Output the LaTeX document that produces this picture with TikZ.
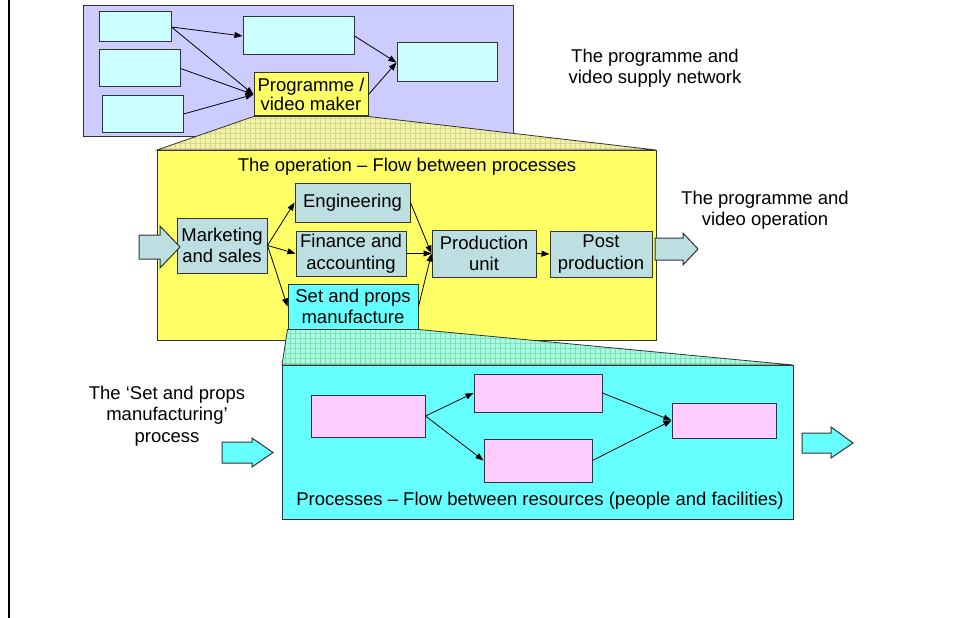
\documentclass[tikz,border=0pt]{standalone}
\usepackage{fontspec}
\setmainfont{Liberation Sans}
\usetikzlibrary{arrows.meta,patterns.meta}
\definecolor{bord}{HTML}{333333}
\definecolor{netfill}{HTML}{CCCCFF}
\definecolor{palecyan}{HTML}{CCFFFF}
\definecolor{opyellow}{HTML}{FFFF66}
\definecolor{teal}{HTML}{BDDFE1}
\definecolor{brightcyan}{HTML}{66FFFF}
\definecolor{pink}{HTML}{FFCCFF}
\definecolor{zoomyellow}{HTML}{F2F2A8}
\definecolor{zoomyellowline}{HTML}{D6D68A}
\definecolor{zoommint}{HTML}{A8FFE0}
\definecolor{zoommintline}{HTML}{7EDEBC}
\begin{document}
\begin{tikzpicture}[x=1pt,y=-1pt,
  every node/.style={font=\fontsize{18.5}{21.5}\selectfont, inner sep=0pt, align=center},
  region/.style={draw=bord, line width=1pt},
  stagebox/.style={draw=bord, line width=1pt},
  flow/.style={draw=black, line width=0.8pt, -{Triangle[length=8pt,width=6pt]}},
  blockarrow/.style={draw=bord, line width=1pt},
  zoomband/.style={draw=bord, line width=0.8pt}]
\useasboundingbox (0,0) rectangle (954,618);
\fill[white] (0,0) rectangle (954,618);

% left margin rule
\draw[line width=2.5pt] (9,0) -- (9,618);

% ---------- supply network ----------
\node[region, fill=netfill, minimum width=430pt, minimum height=130pt] (net) at (298,71) {};
\node[stagebox, fill=palecyan, minimum width=72pt, minimum height=30pt] (a1) at (135,27) {};
\node[stagebox, fill=palecyan, minimum width=81pt, minimum height=37pt] (a2) at (139.5,68.5) {};
\node[stagebox, fill=palecyan, minimum width=81pt, minimum height=36pt] (a3) at (142.5,114) {};
\node[stagebox, fill=palecyan, minimum width=111pt, minimum height=38pt] (b) at (298.5,36) {};
\node[stagebox, fill=palecyan, minimum width=100pt, minimum height=39pt] (c) at (447,62.5) {};
\node[stagebox, fill=opyellow, minimum width=114pt, minimum height=43pt,
      font=\fontsize{18.5}{17}\selectfont] (maker) at (311,94.5) {Programme /\\video maker};
\draw[flow] (a1.east) -- (b.west);
\draw[flow] (a1.east) -- (maker.west);
\draw[flow] (a2.east) -- (maker.west);
\draw[flow] (a3.east) -- (maker.west);
\draw[flow] (b.east) -- (c.west);
\draw[flow] (maker.east) -- (c.west);

\node (netcap) at (655,68) {The programme and\\video supply network};

% zoom band from the maker into the operation
\path[zoomband, preaction={fill=zoomyellow},
      pattern={Hatch[angle=0,distance=5pt,line width=0.5pt]}, pattern color=zoomyellowline]
  (maker.south west) -- (maker.south east) -- (656,150) -- (157,150) -- cycle;

% ---------- operation ----------
\node[region, fill=opyellow, minimum width=499pt, minimum height=190pt] (op) at (406.5,245) {};
\node (optitle) at (407,167) {The operation -- Flow between processes};
\node[stagebox, fill=teal, minimum width=90pt, minimum height=55pt] (mk) at (222,245.5) {Marketing\\and sales};
\node[stagebox, fill=teal, minimum width=115pt, minimum height=39pt] (eng) at (352.5,202.5) {Engineering};
\node[stagebox, fill=teal, minimum width=110pt, minimum height=45pt] (fin) at (351,253.5) {Finance and\\accounting};
\node[stagebox, fill=brightcyan, minimum width=130pt, minimum height=45pt] (set) at (353,306.5) {Set and props\\manufacture};
\node[stagebox, fill=teal, minimum width=104pt, minimum height=47pt] (prod) at (484,253.5) {Production\\unit};
\node[stagebox, fill=teal, minimum width=102pt, minimum height=46pt] (post) at (601,254) {Post\\production};
\draw[flow] (mk.east) -- (eng.west);
\draw[flow] (mk.east) -- (fin.west);
\draw[flow] (mk.east) -- (set.west);
\draw[flow] (eng.east) -- (prod.west);
\draw[flow] (fin.east) -- (prod.west);
\draw[flow] (set.east) -- (prod.west);
\draw[flow] (prod.east) -- (post.west);

% input and output of the operation
\draw[blockarrow, fill=teal]
  (139,235) -- (160,235) -- (160,226) -- (180,247) -- (160,268) -- (160,259) -- (139,259) -- cycle;
\draw[blockarrow, fill=teal]
  (655,238) -- (683,238) -- (683,233) -- (698,249) -- (683,265) -- (683,260) -- (655,260) -- cycle;
\node (opcap) at (765,210) {The programme and\\video operation};

% zoom band from set and props into the process
\path[zoomband, preaction={fill=zoommint},
      pattern={Hatch[angle=0,distance=5pt,line width=0.5pt]}, pattern color=zoommintline]
  (set.south west) -- (set.south east) -- (793,365) -- (282,365) -- cycle;

% ---------- set and props process ----------
\node[region, fill=brightcyan, minimum width=511pt, minimum height=154pt] (proc) at (537.5,442) {};
\node[stagebox, fill=pink, minimum width=114pt, minimum height=42pt] (d1) at (368,416) {};
\node[stagebox, fill=pink, minimum width=128pt, minimum height=38pt] (d2) at (538,393) {};
\node[stagebox, fill=pink, minimum width=108pt, minimum height=43pt] (d3) at (538,460.5) {};
\node[stagebox, fill=pink, minimum width=104pt, minimum height=35pt] (d4) at (724,420.5) {};
\draw[flow] (d1.east) -- (d2.west);
\draw[flow] (d1.east) -- (d3.west);
\draw[flow] (d2.east) -- (d4.west);
\draw[flow] (d3.east) -- (d4.west);
\node (proccap) at (540,501) {Processes -- Flow between resources (people and facilities)};

% input and output of the process
\draw[blockarrow, fill=brightcyan]
  (222,442) -- (252,442) -- (252,438) -- (273,452.5) -- (252,467) -- (252,463) -- (222,463) -- cycle;
\draw[blockarrow, fill=brightcyan]
  (802,433) -- (831,433) -- (831,427) -- (853,443) -- (831,458) -- (831,453) -- (802,453) -- cycle;
\node (setcap) at (167,416) {The ‘Set and props\\manufacturing’\\process};
\end{tikzpicture}
\end{document}
